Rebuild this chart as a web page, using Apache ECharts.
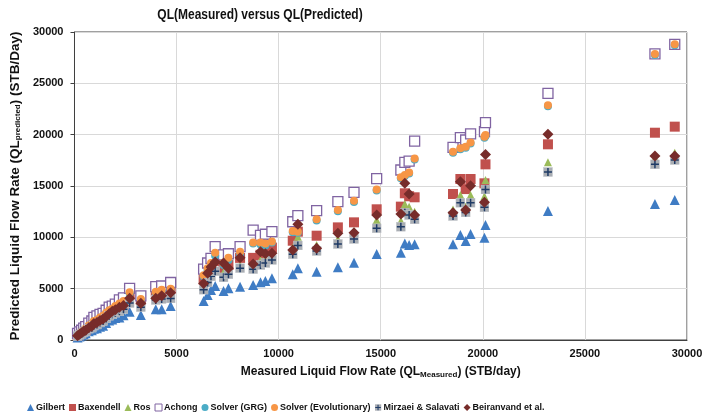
<!DOCTYPE html>
<html><head><meta charset="utf-8">
<script src="https://cdn.jsdelivr.net/npm/echarts@6/dist/echarts.min.js"></script>
<style>html,body{margin:0;padding:0;background:#fff}#c{width:709px;height:414px}</style>
</head><body><div id="c"></div>
<script>
const measured = [150,250,350,450,550,700,850,950,1100,1250,1400,1550,1700,1850,2000,2200,2400,2700,3250,3980,4270,4710,6325,6520,6685,6890,7300,7540,8110,8750,9110,9350,9670,10690,10940,11860,12900,13690,14800,15985,16180,16390,16660,18540,18900,19160,19400,20080,20130,23190,28430,29400];
const gilbert = [250,350,450,550,650,850,950,1100,1150,1300,1400,1650,1900,2000,2150,2200,2400,2760,2440,2990,2990,3310,3800,4380,4870,5260,4770,5040,5190,5360,5620,5750,6010,6400,6980,6650,7080,7530,8380,8500,9410,9250,9320,9320,10230,9640,10320,9960,11200,12560,13250,13640];
const baxendell = [450,600,750,900,1000,1300,1450,1700,1800,2000,2150,2450,2700,2900,3100,3300,3500,4400,3900,4700,4800,5000,5900,6600,7300,7700,7000,7300,8000,8000,8300,8600,9000,9670,10550,10160,10970,11460,12730,12990,14290,14000,13900,14220,15680,14700,15680,15260,17110,19060,20190,20780];
const ros = [400,550,650,800,900,1150,1300,1500,1600,1800,1950,2200,2450,2650,2800,3000,3200,3900,3500,4300,4400,4700,5300,6100,6700,7000,6600,6800,7300,7400,7800,8000,8200,9000,10060,9250,9840,10600,11690,11620,13250,12990,12500,12700,14120,12990,14120,14000,15580,17310,17700,18240];
const achong = [650,800,950,1150,1300,1650,1850,2200,2350,2500,2600,2900,3200,3300,3500,3900,4100,5030,4300,5190,5260,5600,6900,7500,7950,9100,8300,8400,9100,10700,10200,10300,10550,11520,12110,12600,13470,14370,15710,16560,17300,17430,19380,18760,19720,19480,20070,20290,21170,24030,27860,28800];
const solverGRG = [500,650,800,950,1100,1400,1550,1800,1900,2150,2300,2600,2850,3000,3200,3450,3700,4550,3900,4600,4800,4900,6200,6800,7300,8200,7300,7800,8300,9400,9300,9200,9500,10500,10450,11650,12550,13450,14550,15750,15970,16220,17590,18240,18570,18730,19130,19700,19870,22760,27760,28700];
const solverEvol = [520,680,820,980,1120,1420,1580,1850,1950,2200,2350,2650,2900,3050,3300,3550,3800,4650,4000,4700,4900,5000,6300,7000,7500,8500,7500,8000,8600,9500,9500,9400,9600,10620,10550,11760,12660,13570,14660,15850,16070,16320,17690,18340,18670,18830,19230,19800,19970,22860,27860,28800];
const mirzaei = [380,500,600,750,850,1100,1200,1400,1500,1700,1850,2100,2350,2500,2650,2800,3000,3600,3200,3900,4000,4050,4900,5600,6200,6700,6100,6400,7000,6900,7300,7500,7800,8350,9210,8670,9350,9840,10880,11030,12400,12170,11750,12080,13370,12430,13370,12920,14660,16360,17110,17530];
const beiranvand = [420,560,700,850,950,1200,1350,1600,1700,1900,2050,2300,2550,2800,2950,3200,3350,4060,3570,4060,4300,4600,5500,6500,7100,7600,7500,7000,8000,7400,8600,8400,8450,8770,11270,8930,10390,10450,12170,12270,15260,14220,12170,12400,15420,12660,15030,13410,18080,20030,17920,17920];
const seriesNames = ['Gilbert','Baxendell','Ros','Achong','Solver (GRG)','Solver (Evolutionary)','Mirzaei & Salavati','Beiranvand et al.'];
const chartTitle = 'QL(Measured) versus QL(Predicted)';

const FONT = '"Liberation Sans", Arial, sans-serif';
const mirzSvg = "<svg xmlns='http://www.w3.org/2000/svg' width='20' height='20'><rect x='1' y='1' width='18' height='18' fill='#a9adb3' stroke='#c4c7cc' stroke-width='1'/><path d='M10 2V18M2 10H18' stroke='#1f3b66' stroke-width='3'/></svg>";
const mirzSym = 'image://data:image/svg+xml;charset=utf-8,' + encodeURIComponent(mirzSvg);

function pts(arr){ return measured.map((x,i)=>[x,arr[i]]); }
const defs = [
  {name:seriesNames[0], data:gilbert, symbol:'triangle', size:10, style:{color:'#3f7cc4'}},
  {name:seriesNames[1], data:baxendell, symbol:'rect', size:10, style:{color:'#c0504d'}},
  {name:seriesNames[2], data:ros, symbol:'triangle', size:8, style:{color:'#9bbb59'}},
  {name:seriesNames[3], data:achong, symbol:'rect', size:10, style:{color:'#ffffff', borderColor:'#8064a2', borderWidth:1.3}},
  {name:seriesNames[4], data:solverGRG, symbol:'circle', size:8, style:{color:'#4bacc6'}},
  {name:seriesNames[5], data:solverEvol, symbol:'circle', size:8, style:{color:'#f79646'}},
  {name:seriesNames[6], data:mirzaei, symbol:mirzSym, size:10, style:{color:'#8a99ad'}},
  {name:seriesNames[7], data:beiranvand, symbol:'diamond', size:11, style:{color:'#772c2a'}}
];
const chart = echarts.init(document.getElementById('c'), null, {renderer:'canvas'});
const richName = {
  a:{fontFamily:FONT, fontWeight:'bold', fontSize:12, color:'#111'},
  s:{fontFamily:FONT, fontWeight:'bold', fontSize:8, color:'#111', verticalAlign:'bottom', padding:[6,0,0,0]}
};
const legendData = seriesNames.map(n => n === 'Achong'
  ? {name:n, itemStyle:{borderWidth:1, color:'#ffffff', borderColor:'#8064a2'}}
  : {name:n});
chart.setOption({
  animation:false,
  backgroundColor:'#fff',
  graphic:[{type:'text', x:260, y:15, scaleX:0.8, scaleY:1,
    style:{text:chartTitle, x:0, y:0, align:'center', verticalAlign:'middle',
      font:'bold 15px ' + FONT, fill:'#111'}}],
  grid:{left:69, right:22, top:32, bottom:74, show:true, borderColor:'#404040', borderWidth:1},
  legend:{left:22, top:398, itemWidth:7, itemHeight:7, itemGap:4,
    textStyle:{fontFamily:FONT, fontWeight:'bold', fontSize:9, color:'#111', padding:[0,0,0,-3]},
    data:legendData},
  xAxis:{type:'value', min:0, max:30000, interval:5000,
    name:'{a|Measured Liquid Flow Rate (QL}{s|Measured}{a|) (STB/day)}',
    nameLocation:'middle', nameGap:25,
    nameTextStyle:{rich:richName},
    axisLine:{show:true, lineStyle:{color:'#404040'}},
    axisTick:{show:false},
    axisLabel:{fontFamily:FONT, fontWeight:'bold', fontSize:11, color:'#111', margin:8, formatter:v=>String(v)},
    splitLine:{show:true, lineStyle:{color:'#d9d9d9'}}},
  yAxis:{type:'value', min:0, max:30000, interval:5000,
    name:'{b|Predicted Liquid Flow Rate (QL}{s|predicted}{b|) (STB/Day)}',
    nameLocation:'middle', nameGap:51,
    nameTextStyle:{rich:{b:Object.assign({}, richName.a, {fontSize:13.5}), s:richName.s}},
    axisLine:{show:true, lineStyle:{color:'#404040'}},
    axisTick:{show:true, length:4, lineStyle:{color:'#404040'}},
    axisLabel:{fontFamily:FONT, fontWeight:'bold', fontSize:11, color:'#111', margin:11, formatter:v=>String(v)},
    splitLine:{show:true, lineStyle:{color:'#d9d9d9'}}},
  series: defs.map(d=>({type:'scatter', name:d.name, data:pts(d.data), symbol:d.symbol, symbolSize:d.size, itemStyle:Object.assign({opacity:1}, d.style), emphasis:{disabled:true}}))
});
</script></body></html>
